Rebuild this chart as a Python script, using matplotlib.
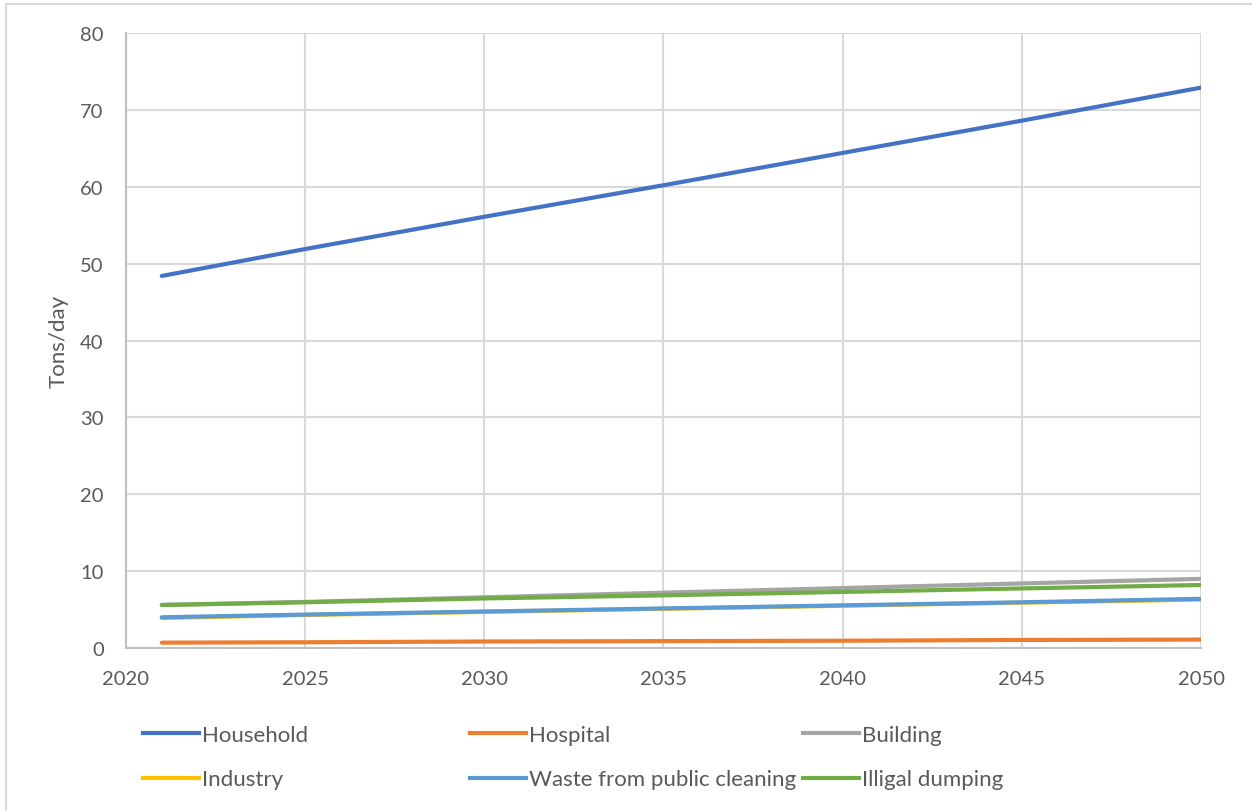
import matplotlib.pyplot as plt
from matplotlib.lines import Line2D

years = [2021, 2025, 2030, 2035, 2040, 2045, 2050]
household = [48.4, 51.9, 56.1, 60.2, 64.4, 68.6, 72.9]
hospital = [0.7, 0.75, 0.85, 0.9, 0.95, 1.05, 1.1]
building = [5.6, 6.0, 6.6, 7.2, 7.8, 8.4, 9.0]
industry = [3.9, 4.3, 4.7, 5.1, 5.5, 5.9, 6.3]
public_cleaning = [4.0, 4.35, 4.75, 5.15, 5.55, 5.95, 6.4]
illegal_dumping = [5.6, 5.95, 6.45, 6.85, 7.3, 7.75, 8.2]

series_names = ["Household", "Hospital", "Building", "Industry",
                "Waste from public cleaning", "Illigal dumping"]
series_values = [household, hospital, building, industry,
                 public_cleaning, illegal_dumping]
colors = ["#4472C4", "#ED7D31", "#A5A5A5", "#FFC000", "#5B9BD5", "#70AD47"]

plt.rcParams["font.family"] = ["Lato", "DejaVu Sans"]
text_color = "#595959"
grid_color = "#D9D9D9"
tick_fs = 14.5
label_fs = 16

fig = plt.figure(figsize=(12.52, 8.12), dpi=100)
ax = fig.add_axes([0.1006, 0.2007, 0.8587, 0.7574])

for name, vals, c in zip(series_names, series_values, colors):
    ax.plot(years, vals, color=c, linewidth=3.0, solid_capstyle="round", label=name)

ax.set_xlim(2020, 2050)
ax.set_ylim(0, 80)
ax.set_xticks(range(2020, 2051, 5))
ax.set_yticks(range(0, 81, 10))
ax.grid(True, color=grid_color, linewidth=1.5)
ax.set_axisbelow(True)
for side in ["top", "right"]:
    ax.spines[side].set_visible(False)
for side in ["left", "bottom"]:
    ax.spines[side].set_color("#BFBFBF")
    ax.spines[side].set_linewidth(1.5)
ax.tick_params(length=0, labelsize=tick_fs, colors=text_color, pad=16)
ax.set_ylabel("Tons/day", fontsize=label_fs, color=text_color, labelpad=8)

# legend: three columns, two rows, laid out row by row
col_x = [143 / 1252, 470 / 1252, 803 / 1252]
for col, x in enumerate(col_x):
    idx = [col, col + 3]
    handles = [Line2D([], [], color=colors[i], linewidth=3.0) for i in idx]
    labels = [series_names[i] for i in idx]
    fig.legend(handles, labels, loc="upper left", bbox_to_anchor=(x, 0.106),
               frameon=False, fontsize=label_fs, labelcolor=text_color,
               handlelength=2.5, handletextpad=0.15, labelspacing=1.1,
               borderpad=0, borderaxespad=0)

# thin frame around the chart area
fig.add_artist(Line2D([0.005, 0.005], [0.0, 0.994], color=grid_color, linewidth=1.5,
                      transform=fig.transFigure))
fig.add_artist(Line2D([0.005, 1.0], [0.994, 0.994], color=grid_color, linewidth=1.5,
                      transform=fig.transFigure))

fig.savefig("out.png", dpi=100)
